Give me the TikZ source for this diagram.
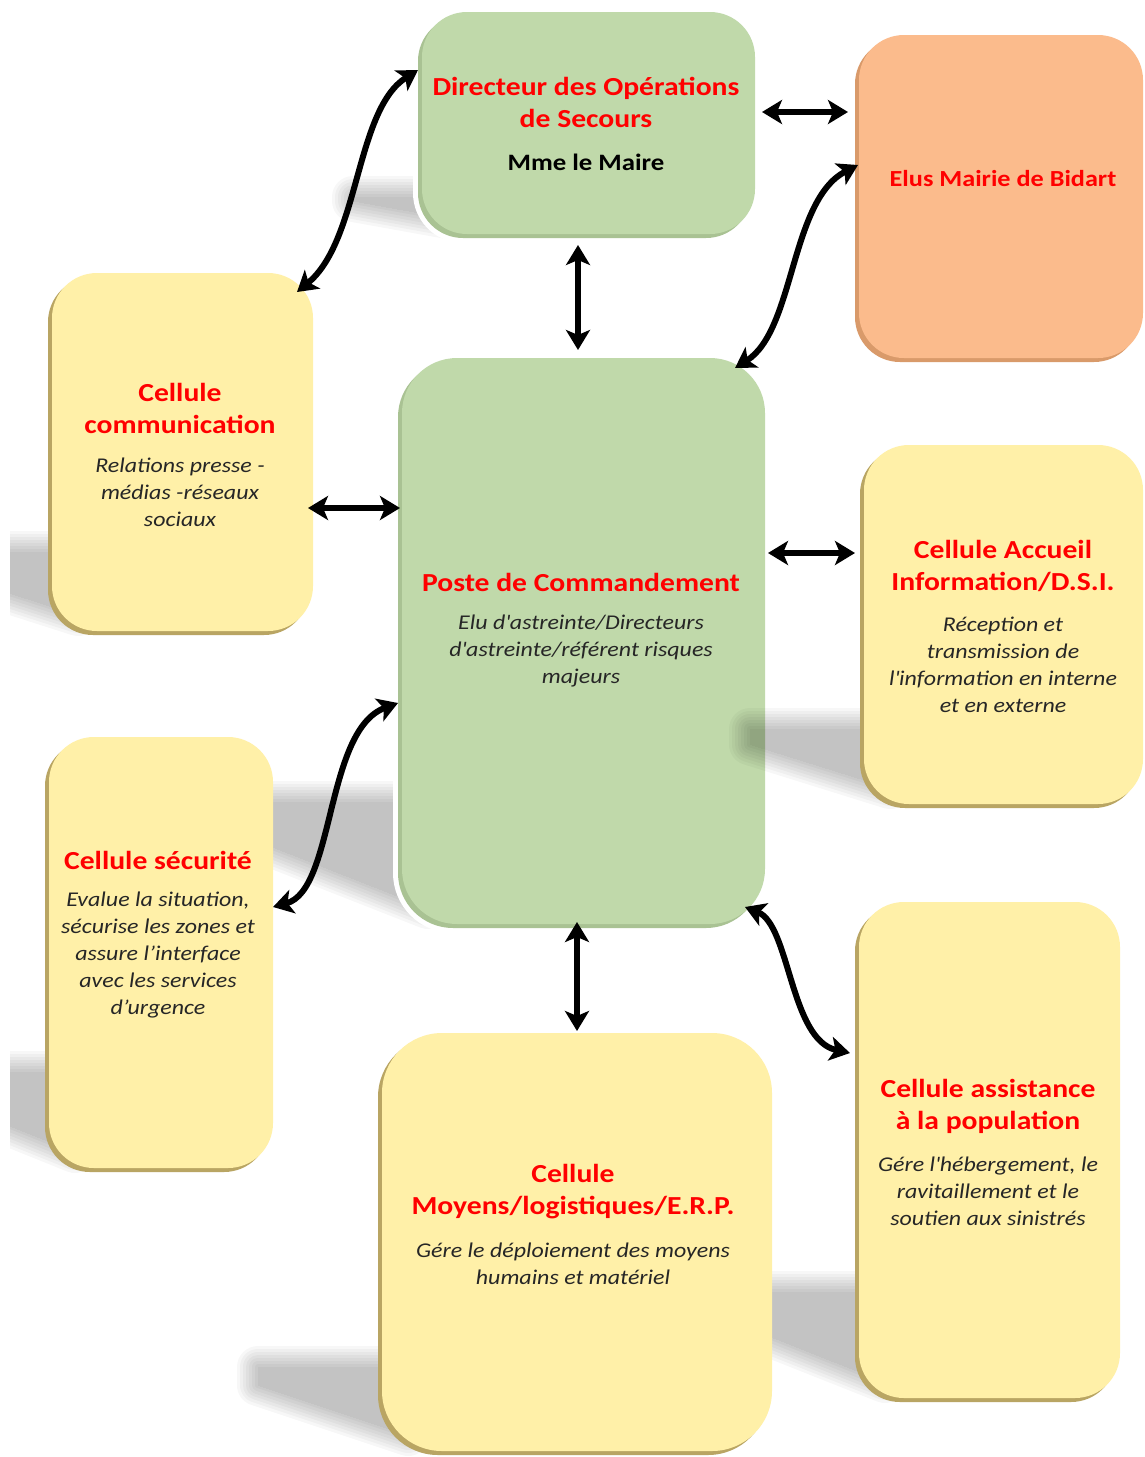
\documentclass[tikz,border=0pt]{standalone}
\usepackage{fontspec}
\setmainfont{Carlito}[FakeStretch=1.14]
\usetikzlibrary{arrows.meta,calc}
\definecolor{yfill}{HTML}{FFF0A8}
\definecolor{ydark}{HTML}{B9A563}
\definecolor{gfill}{HTML}{C0D9AA}
\definecolor{gdark}{HTML}{A9C293}
\definecolor{ofill}{HTML}{FBBB8C}
\definecolor{odark}{HTML}{D99A6A}
\definecolor{tred}{HTML}{FF0000}
\tikzset{
  bevel/.style 2 args={fill=#1, preaction={fill=#2, transform canvas={shift={(-4pt,-4pt)}}}},
  cellbox/.style={rounded corners=45pt, inner sep=0pt, outer sep=0pt, bevel={yfill}{ydark}},
  greenbox/.style={rounded corners=45pt, inner sep=0pt, outer sep=0pt,
     preaction={draw=white, line width=10pt, transform canvas={shift={(-4pt,-4pt)}}},
     bevel={gfill}{gdark}},
  orangebox/.style={rounded corners=45pt, inner sep=0pt, outer sep=0pt, bevel={ofill}{odark}},
  ttl/.style={font=\bfseries\fontsize{26}{32}\selectfont, text=tred, align=center, inner sep=0pt},
  dsc/.style={font=\itshape\fontsize{21}{27}\selectfont, text=black!85, align=center, inner sep=0pt},
  dbl/.style={line width=6pt, {Stealth[length=20pt,width=24pt,inset=5pt]}-{Stealth[length=20pt,width=24pt,inset=5pt]}},
}
\newcommand{\shadowpoly}[4]{% L, ys, B, dx
  \foreach \w in {42,36,30,24,18,12,6,0}{
    \begin{scope}[transparency group, opacity=0.032]
      \filldraw[black, line width=\w pt, line join=round]
        ({#1-#4+15},{#2+12}) -- ({#1+30},{#2+12}) -- ({#1+30},{#3-20}) -- ({#1-#4+15},{#2+0.3*(#3-#2)}) -- cycle;
    \end{scope}
  }
}
\begin{document}
\begin{tikzpicture}[x=1pt,y=-1pt]
\fill[white] (0,0) rectangle (1145,1457);
\useasboundingbox (0,0) rectangle (1145,1457);

% DOS
\begin{scope}\clip (10,0) rectangle (1145,1457); \shadowpoly{418}{185}{238}{80}\end{scope}
\node[greenbox, minimum width=333pt, minimum height=222pt] (dos) at (588.5,123) {};
% Elus
\node[orangebox, minimum width=284pt, minimum height=323pt] (elus) at (1001,196.5) {};
% communication
\begin{scope}\clip (10,0) rectangle (1145,1457); \shadowpoly{48}{540}{635}{130}\end{scope}
\node[cellbox, minimum width=261pt, minimum height=358pt] (comm) at (182.5,452) {};
% PC
\begin{scope}\clip (10,0) rectangle (1145,1457); \shadowpoly{398}{790}{928}{180}\end{scope}
\node[greenbox, rounded corners=55pt, minimum width=363pt, minimum height=566pt] (pc) at (583.5,641) {};
% Accueil
\shadowpoly{860}{717}{808}{125}
\node[cellbox, minimum width=279pt, minimum height=359pt] (acc) at (1003.5,624.5) {};
% Securite
\begin{scope}\clip (10,0) rectangle (1145,1457); \shadowpoly{45}{1060}{1172}{130}\end{scope}
\node[cellbox, minimum width=224pt, minimum height=431pt] (secu) at (161,952.5) {};
% Assistance
\shadowpoly{855}{1280}{1402}{150}
\node[cellbox, minimum width=261pt, minimum height=496pt] (assist) at (989.5,1150) {};
% Moyens
\shadowpoly{378}{1355}{1455}{135}
\node[cellbox, rounded corners=60pt, minimum width=390pt, minimum height=418pt] (moy) at (577,1242) {};

% texts
\node[ttl] (dosT) at (586,102) {Directeur des Opérations\\de Secours};
\node[font=\bfseries\fontsize{23.5}{28}\selectfont, text=black, inner sep=0pt] (dosS) at (586,162) {Mme le Maire};
\node[ttl, font=\bfseries\fontsize{23}{28}\selectfont] (elusT) at (1003,179) {Elus Mairie de Bidart};
\node[ttl] (commT) at (180,408) {Cellule\\communication};
\node[dsc] (commD) at (180,492.5) {Relations presse -\\médias -réseaux\\sociaux};
\node[ttl] (pcT) at (581,582) {Poste de Commandement};
\node[dsc] (pcD) at (581,651) {Elu d\textquotesingle astreinte/Directeurs\\d\textquotesingle astreinte/référent risques\\majeurs};
\node[ttl] (accT) at (1003,566) {Cellule Accueil\\Information/D.S.I.};
\node[dsc] (accD) at (1003,664.5) {Réception et\\transmission de\\l\textquotesingle information en interne\\et en externe};
\node[ttl] (secuT) at (158,860) {Cellule sécurité};
\node[dsc] (secuD) at (158,955) {Evalue la situation,\\sécurise les zones et\\assure l'interface\\avec les services\\d'urgence};
\node[ttl] (moyT) at (573,1192) {Cellule\\Moyens/logistiques/E.R.P.};
\node[dsc] (moyD) at (573,1264) {Gére le déploiement des moyens\\humains et matériel};
\node[ttl] (asT) at (988,1106) {Cellule assistance\\à la population};
\node[dsc] (asD) at (988,1191) {Gére l\textquotesingle hébergement, le\\ravitaillement et le\\soutien aux sinistrés};

% connectors
\draw[dbl] ($(comm.north east)+(-16,19)$) .. controls (360,240) and (355,110) .. ($(dos.west)+(-4,-53)$);
\draw[dbl] ($(dos.east)+(7,-11)$) -- ($(elus.west)+(-11,-84.5)$);
\draw[dbl] ($(dos.south)+(-10.5,11)$) -- ($(pc.north)+(-5.5,-8)$);
\draw[dbl] ($(pc.north east)+(-30,10)$) .. controls (795,330) and (790,200) .. ($(elus.west)+(-1,-31.5)$);
\draw[dbl] ($(comm.east)+(-5,56)$) -- ($(pc.west)+(-2,-133)$);
\draw[dbl] ($(pc.east)+(3,-88)$) -- ($(acc.west)+(-9,-71.5)$);
\draw[dbl] ($(secu.east)+(0,-45.5)$) .. controls (335,890) and (325,730) .. ($(pc.west)+(-4,62)$);
\draw[dbl] ($(pc.south)+(-6.5,-2)$) -- ($(moy.north)+(0,-2)$);
\draw[dbl] ($(pc.south east)+(-20,-17)$) .. controls (790,925) and (790,1040) .. ($(assist.west)+(-9,-97)$);
\end{tikzpicture}
\end{document}
